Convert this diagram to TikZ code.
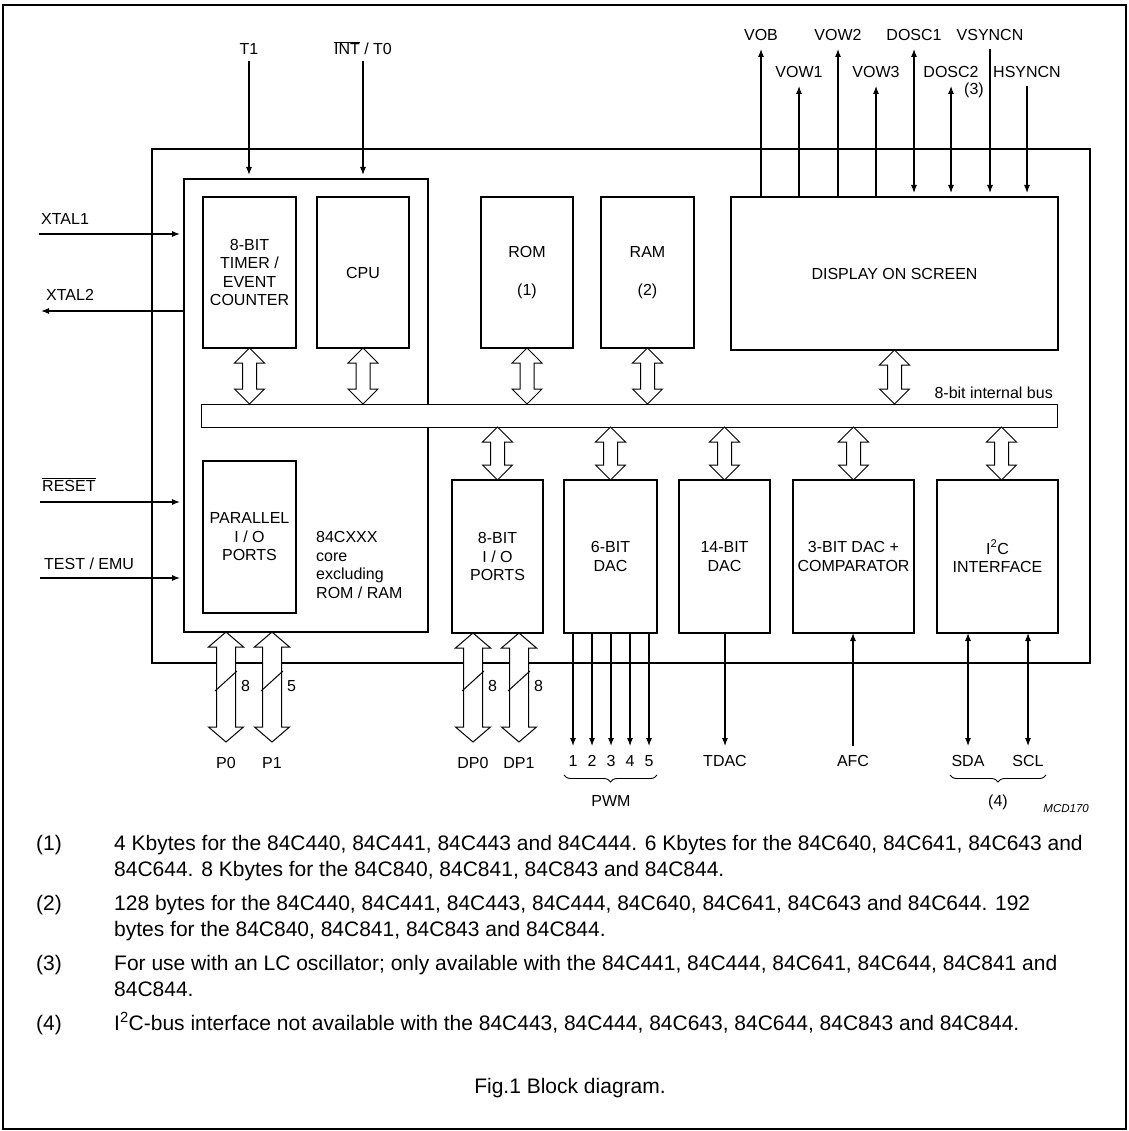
\documentclass[tikz,border=0pt]{standalone}
\usepackage{fontspec}
\setmainfont{Liberation Sans}
\usetikzlibrary{arrows.meta,positioning,calc,decorations.pathreplacing}

\newcommand{\bidir}[3][7pt]{%
  \draw[busarrow] let \p1=(#2), \p2=(#3) in
    (\x1,\y1) -- (\x1+#1+8pt,\y1-15pt) -- (\x1+#1,\y1-15pt)
    -- (\x1+#1,\y2+15pt) -- (\x1+#1+8pt,\y2+15pt) -- (\x1,\y2)
    -- (\x1-#1-8pt,\y2+15pt) -- (\x1-#1,\y2+15pt)
    -- (\x1-#1,\y1-15pt) -- (\x1-#1-8pt,\y1-15pt) -- cycle;}

\begin{document}
\begin{tikzpicture}[x=1pt, y=-1pt,
    font=\fontsize{16}{18.5}\selectfont,
    inner sep=2pt,
    blk/.style={draw, line width=2.2pt, align=center, inner sep=0pt, outer sep=0pt},
    lbl/.style={anchor=base},
    sig/.style={line width=1.1pt, -{Latex[length=8pt,width=6pt]}},
    sigin/.style={line width=1.1pt, {Latex[length=8pt,width=6pt]}-, shorten <=4pt},
    sigbi/.style={line width=1.1pt, {Latex[length=8pt,width=6pt]}-{Latex[length=8pt,width=6pt]}},
    pbi/.style={sigbi, shorten <=4pt},
    busarrow/.style={draw, line width=1pt, fill=white},
    brc/.style={decorate, decoration={brace, amplitude=7pt, mirror}, line width=0.9pt},
    note/.style={anchor=base west, inner sep=0pt, font=\fontsize{21}{26}\selectfont}
  ]
  \useasboundingbox (0,0) rectangle (1128,1131);
  \draw[line width=1.3pt] (3,5) rectangle (1126,1129);

  \node[blk, line width=2.4pt, minimum width=938, minimum height=514, anchor=north west] (chip) at (152,149) {};
  \node[blk, minimum width=244, minimum height=453, anchor=north west] (core) at (184,179) {};
  \node[draw, line width=1pt, fill=white, inner sep=0pt, outer sep=0pt, minimum width=856,
    minimum height=23, anchor=north west] (bus) at (201,404) {};
  \node[anchor=base east] (buslbl) at ([shift={(-2pt,6pt)}]bus.north east) {8-bit internal bus};

  \node[blk, minimum width=93, minimum height=151, anchor=north west] (timer) at (203,197)
    {8-BIT\\TIMER /\\EVENT\\COUNTER};
  \node[blk, minimum width=92, minimum height=151, right=21pt of timer] (cpu) {CPU};
  \node[blk, minimum width=92, minimum height=151, right=72pt of cpu] (rom) {ROM\\[19pt](1)};
  \node[blk, minimum width=93, minimum height=151, right=28pt of rom] (ram) {RAM\\[19pt](2)};
  \node[blk, minimum width=327, minimum height=153, anchor=north west] (disp) at (731,197)
    {DISPLAY ON SCREEN};

  \node[blk, minimum width=93, minimum height=152, anchor=north west] (par) at (203,461)
    {PARALLEL\\I / O\\PORTS};
  \node[anchor=west, align=left] (corelbl) at (314,565) {84CXXX\\core\\excluding\\ROM / RAM};

  \node[blk, minimum width=91, minimum height=153, anchor=north west] (io) at (452,480)
    {8-BIT\\I / O\\PORTS};
  \node[blk, minimum width=93, minimum height=153, right=21pt of io] (dac6) {6-BIT\\DAC};
  \node[blk, minimum width=91, minimum height=153, right=22pt of dac6] (dac14) {14-BIT\\DAC};
  \node[blk, minimum width=121, minimum height=153, right=23pt of dac14] (cmp) {3-BIT DAC +\\COMPARATOR};
  \node[blk, minimum width=121, minimum height=153, right=23pt of cmp] (iic) {I\textsuperscript{2}C\\INTERFACE};

  \foreach \b in {timer,cpu,rom,ram,disp} {\bidir{\b.south}{\b.south |- bus.north}}
  \foreach \b in {io,dac6,dac14,cmp} {\bidir{bus.south -| \b.north}{\b.north}}
  \coordinate (iicin) at ([xshift=4pt]iic.north);
  \bidir{bus.south -| iicin}{iicin}

  \node[lbl] (t1) at (249,55) {T1};
  \draw[sig, shorten >=4pt] ([yshift=-6pt]t1.base) -- (t1.base |- core.north);
  \node[lbl] (int) at (363,55) {$\overline{\mbox{INT}}$ / T0};
  \draw[sig, shorten >=4pt] ([yshift=-6pt]int.base) -- (int.base |- core.north);

  \foreach \pn/\px/\py/\pd in {VOB/761/41/sig, VOW1/799/78/sig, VOW2/838/41/sig, VOW3/876/78/sig,
      DOSC1/914/41/pbi, DOSC2/951/78/pbi, VSYNCN/990/41/sigin, HSYNCN/1027/78/sigin} {
    \node[lbl] (\pn) at (\px,\py) {\pn};
    \draw[\pd] (\pn.base |- disp.north) -- ([yshift=-8pt]\pn.base);
  }
  \node[anchor=base west] (n3) at (962,95) {(3)};

  \coordinate (xt1) at (39,234);
  \node[anchor=base west] (xt1lbl) at ([yshift=9pt]xt1) {XTAL1};
  \draw[sig, shorten >=4pt] (xt1) -- (xt1 -| core.west);
  \coordinate (xt2) at (41,311);
  \node[anchor=base west] (xt2lbl) at ([shift={(3pt,10pt)}]xt2) {XTAL2};
  \draw[sig] (xt2 -| core.west) -- (xt2);
  \coordinate (rst) at (40,502);
  \node[anchor=base west] (rstlbl) at ([yshift=11pt]rst) {$\overline{\mbox{RESET}}$};
  \draw[sig, shorten >=4pt] (rst) -- (rst -| core.west);
  \coordinate (tst) at (40,578);
  \node[anchor=base west] (tstlbl) at ([shift={(2pt,9pt)}]tst) {TEST / EMU};
  \draw[sig, shorten >=4pt] (tst) -- (tst -| core.west);

  \foreach \pn/\px/\pw/\src in {P0/226/8/core, P1/272/5/core, DP0/473/8/io, DP1/519/8/io} {
    \node[lbl] (\pn) at (\px,768) {\pn};
    \bidir[9.5pt]{\pn.base |- \src.south}{[yshift=26pt]\pn.base}
    \coordinate (sl\pn) at (\px,681);
    \draw[line width=1pt] (sl\pn) ++(-11,10) -- ++(22,-20);
    \node[anchor=base west] (w\pn) at ([shift={(13pt,-10pt)}]sl\pn) {\pw};
  }

  \foreach \i/\xx in {1/573,2/592,3/611,4/630,5/649} {
    \node[lbl] (pwm\i) at (\xx,766) {\i};
    \draw[sig] (pwm\i.base |- dac6.south) -- ([yshift=20pt]pwm\i.base);
  }
  \node[lbl] (tdac) at (725,766) {TDAC};
  \draw[sig] (tdac.base |- dac14.south) -- ([yshift=20pt]tdac.base);
  \node[lbl] (afc) at (853,766) {AFC};
  \draw[sig] ([yshift=20pt]afc.base) -- (afc.base |- cmp.south);
  \node[lbl] (sda) at (968,766) {SDA};
  \draw[sigbi] (sda.base |- iic.south) -- ([yshift=20pt]sda.base);
  \node[lbl] (scl) at (1028,766) {SCL};
  \draw[sigbi] (scl.base |- iic.south) -- ([yshift=20pt]scl.base);

  \path (dac6.west |- pwm1.base) coordinate (pwmA) (dac6.east |- pwm1.base) coordinate (pwmB);
  \draw[brc] ([yshift=-9pt]pwmA) -- ([yshift=-9pt]pwmB);
  \node[lbl] (pwm) at (611,806) {PWM};
  \coordinate (brcA) at (950,775);
  \coordinate (brcB) at (1046,775);
  \draw[brc] (brcA) -- (brcB);
  \node[lbl] (n4) at (998,806) {(4)};
  \node[anchor=base east, font=\fontsize{11.5}{13}\selectfont\itshape] (mcd) at (1091,812) {MCD170};

  \node[note] (fn1) at (36,850.5) {(1)};
  \node[note] (fn1a) at (114,850.5) {4 Kbytes for the 84C440, 84C441, 84C443 and 84C444. 6 Kbytes for the 84C640, 84C641, 84C643 and};
  \node[note] (fn1b) at (114,876.5) {84C644. 8 Kbytes for the 84C840, 84C841, 84C843 and 84C844.};
  \node[note] (fn2) at (36,910.5) {(2)};
  \node[note] (fn2a) at (114,910.5) {128 bytes for the 84C440, 84C441, 84C443, 84C444, 84C640, 84C641, 84C643 and 84C644. 192};
  \node[note] (fn2b) at (114,936.5) {bytes for the 84C840, 84C841, 84C843 and 84C844.};
  \node[note] (fn3) at (36,970.5) {(3)};
  \node[note] (fn3a) at (114,970.5) {For use with an LC oscillator; only available with the 84C441, 84C444, 84C641, 84C644, 84C841 and};
  \node[note] (fn3b) at (114,996.5) {84C844.};
  \node[note] (fn4) at (36,1030.5) {(4)};
  \node[note] (fn4a) at (114,1030.5) {I\textsuperscript{2}C-bus interface not available with the 84C443, 84C444, 84C643, 84C644, 84C843 and 84C844.};
  \node[anchor=base, font=\fontsize{21}{26}\selectfont] (cap) at (570,1093.5) {Fig.1 Block diagram.};
\end{tikzpicture}
\end{document}
